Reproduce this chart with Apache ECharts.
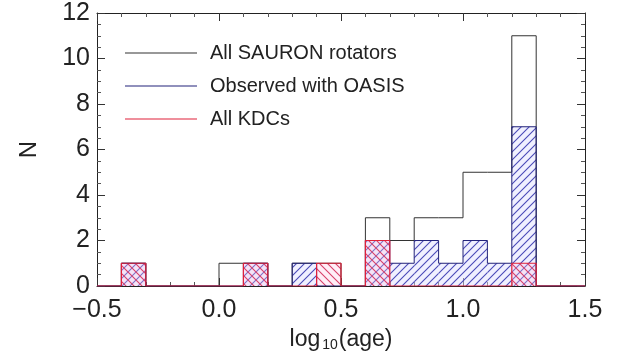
<!DOCTYPE html>
<html>
<head>
<meta charset="utf-8">
<script src="https://cdn.jsdelivr.net/npm/echarts@6/dist/echarts.min.js"></script>
<style>
  html, body { margin: 0; padding: 0; background: #fff; }
  #main { width: 629px; height: 364px; }
</style>
</head>
<body>
<div id="main"></div>
<script>
// histogram bins, lower edges, width 0.1
const binWidth = 0.1
const binEdges = [-0.5, -0.4, -0.3, -0.2, -0.1, 0.0, 0.1, 0.2, 0.3, 0.4, 0.5, 0.6, 0.7, 0.8, 0.9, 1.0, 1.1, 1.2, 1.3, 1.4]
const allRotators = [0, 1, 0, 0, 0, 1, 1, 0, 1, 1, 0, 3, 2, 3, 3, 5, 5, 11, 0, 0]
const oasisObs =    [0, 1, 0, 0, 0, 0, 1, 0, 1, 0, 0, 2, 1, 2, 1, 2, 1, 7, 0, 0]
const allKdcs =     [0, 1, 0, 0, 0, 0, 1, 0, 0, 1, 0, 2, 0, 0, 0, 0, 0, 1, 0, 0]
const xTickLabels = {'-0.5': '\u22120.5', '0': '0.0', '0.5': '0.5', '1': '1.0', '1.5': '1.5'}
const seriesNames = ['All SAURON rotators', 'Observed with OASIS', 'All KDCs']

let main = document.getElementById('main')
let myChart = echarts.init(main)

function hatch(color, dir) {
  const c = document.createElement('canvas')
  c.width = 8
  c.height = 8
  const g = c.getContext('2d')
  g.strokeStyle = color
  g.lineWidth = 1.1
  g.beginPath()
  if (dir === '/') {
    g.moveTo(-1, 9); g.lineTo(9, -1)
    g.moveTo(-1, 1); g.lineTo(1, -1)
    g.moveTo(7, 9); g.lineTo(9, 7)
  } else {
    g.moveTo(-1, -1); g.lineTo(9, 9)
    g.moveTo(7, -1); g.lineTo(9, 1)
    g.moveTo(-1, 7); g.lineTo(1, 9)
  }
  g.stroke()
  return c
}
const bluePattern = {type: 'pattern', image: hatch('#4a4ab8', '/'), repeat: 'repeat'}
const redPattern = {type: 'pattern', image: hatch('#d8406a', '\\'), repeat: 'repeat'}

// step outline of a histogram
function stepData(vals) {
  const pts = [[binEdges[0], 0]]
  vals.forEach((v, i) => pts.push([binEdges[i], v]))
  const last = binEdges[binEdges.length - 1] + binWidth
  pts.push([last, vals[vals.length - 1]])
  pts.push([last, 0])
  return pts
}
function barData(vals) {
  return vals.map((v, i) => [binEdges[i], binEdges[i] + binWidth, v]).filter(d => d[2] > 0)
}
function fillSeries(vals, pattern, tint) {
  return {
    type: 'custom',
    silent: true,
    data: barData(vals),
    encode: {x: [0, 1], y: 2},
    renderItem: (params, api) => {
      const p0 = api.coord([api.value(0), api.value(2)])
      const p1 = api.coord([api.value(1), 0])
      const shape = {x: p0[0], y: p0[1], width: p1[0] - p0[0], height: p1[1] - p0[1]}
      return {
        type: 'group',
        children: [
          {type: 'rect', shape: shape, style: {fill: tint}},
          {type: 'rect', shape: shape, style: {fill: pattern}}
        ]
      }
    }
  }
}
function stepSeries(name, vals, color, width) {
  return {
    name: name,
    type: 'line',
    step: 'end',
    symbol: 'none',
    data: stepData(vals),
    lineStyle: {color: color, width: width},
    itemStyle: {color: color}
  }
}

const axisCommon = {
  axisLine: {onZero: false, lineStyle: {color: '#222', width: 1}},
  splitLine: {show: false},
  axisTick: {inside: true, length: 8, lineStyle: {color: '#333'}}
}
const minor = n => ({show: true, splitNumber: n, length: 4, lineStyle: {color: '#555'}})

myChart.setOption({
  animation: false,
  backgroundColor: '#fff',
  textStyle: {fontFamily: 'Liberation Sans, Arial, sans-serif'},
  grid: {left: 97, right: 44, top: 13, bottom: 78},
  legend: {
    data: seriesNames,
    orient: 'vertical',
    left: 120,
    top: 38,
    itemWidth: 72,
    itemHeight: 14,
    itemGap: 13,
    icon: 'path://M0,7L72,7L72,8L0,8Z',
    textStyle: {fontSize: 20, color: '#222', padding: [0, 0, 0, 8]}
  },
  xAxis: [
    Object.assign({}, axisCommon, {
      type: 'value', min: -0.5, max: 1.5, interval: 0.5,
      minorTick: minor(5),
      name: '{a|log}{s|10}{a|(age)}', nameLocation: 'middle', nameGap: 34,
      nameTextStyle: {rich: {a: {fontSize: 23, color: '#222'}, s: {fontSize: 14, color: '#222', verticalAlign: 'bottom', padding: [12, 1, 0, 2]}}},
      axisLabel: {fontSize: 25, color: '#222', margin: 12, formatter: v => xTickLabels[String(v)] || ''}
    }),
    Object.assign({}, axisCommon, {
      type: 'value', min: -0.5, max: 1.5, interval: 0.5, position: 'top',
      minorTick: minor(5),
      axisLabel: {show: false}
    })
  ],
  yAxis: [
    Object.assign({}, axisCommon, {
      type: 'value', min: 0, max: 12, interval: 2,
      minorTick: minor(4),
      name: 'N', nameLocation: 'middle', nameGap: 56, nameRotate: 90,
      nameTextStyle: {fontSize: 24, color: '#222'},
      axisLabel: {fontSize: 25, color: '#222', margin: 7}
    }),
    Object.assign({}, axisCommon, {
      type: 'value', min: 0, max: 12, interval: 2, position: 'right',
      minorTick: minor(4),
      axisLabel: {show: false}
    })
  ],
  series: [
    fillSeries(oasisObs, bluePattern, 'rgba(225,225,255,0.5)'),
    fillSeries(allKdcs, redPattern, 'rgba(255,200,230,0.3)'),
    stepSeries(seriesNames[0], allRotators, '#333', 1),
    stepSeries(seriesNames[1], oasisObs, '#23237a', 1),
    stepSeries(seriesNames[2], allKdcs, '#e0203a', 1.2)
  ]
})
</script>
</body>
</html>
